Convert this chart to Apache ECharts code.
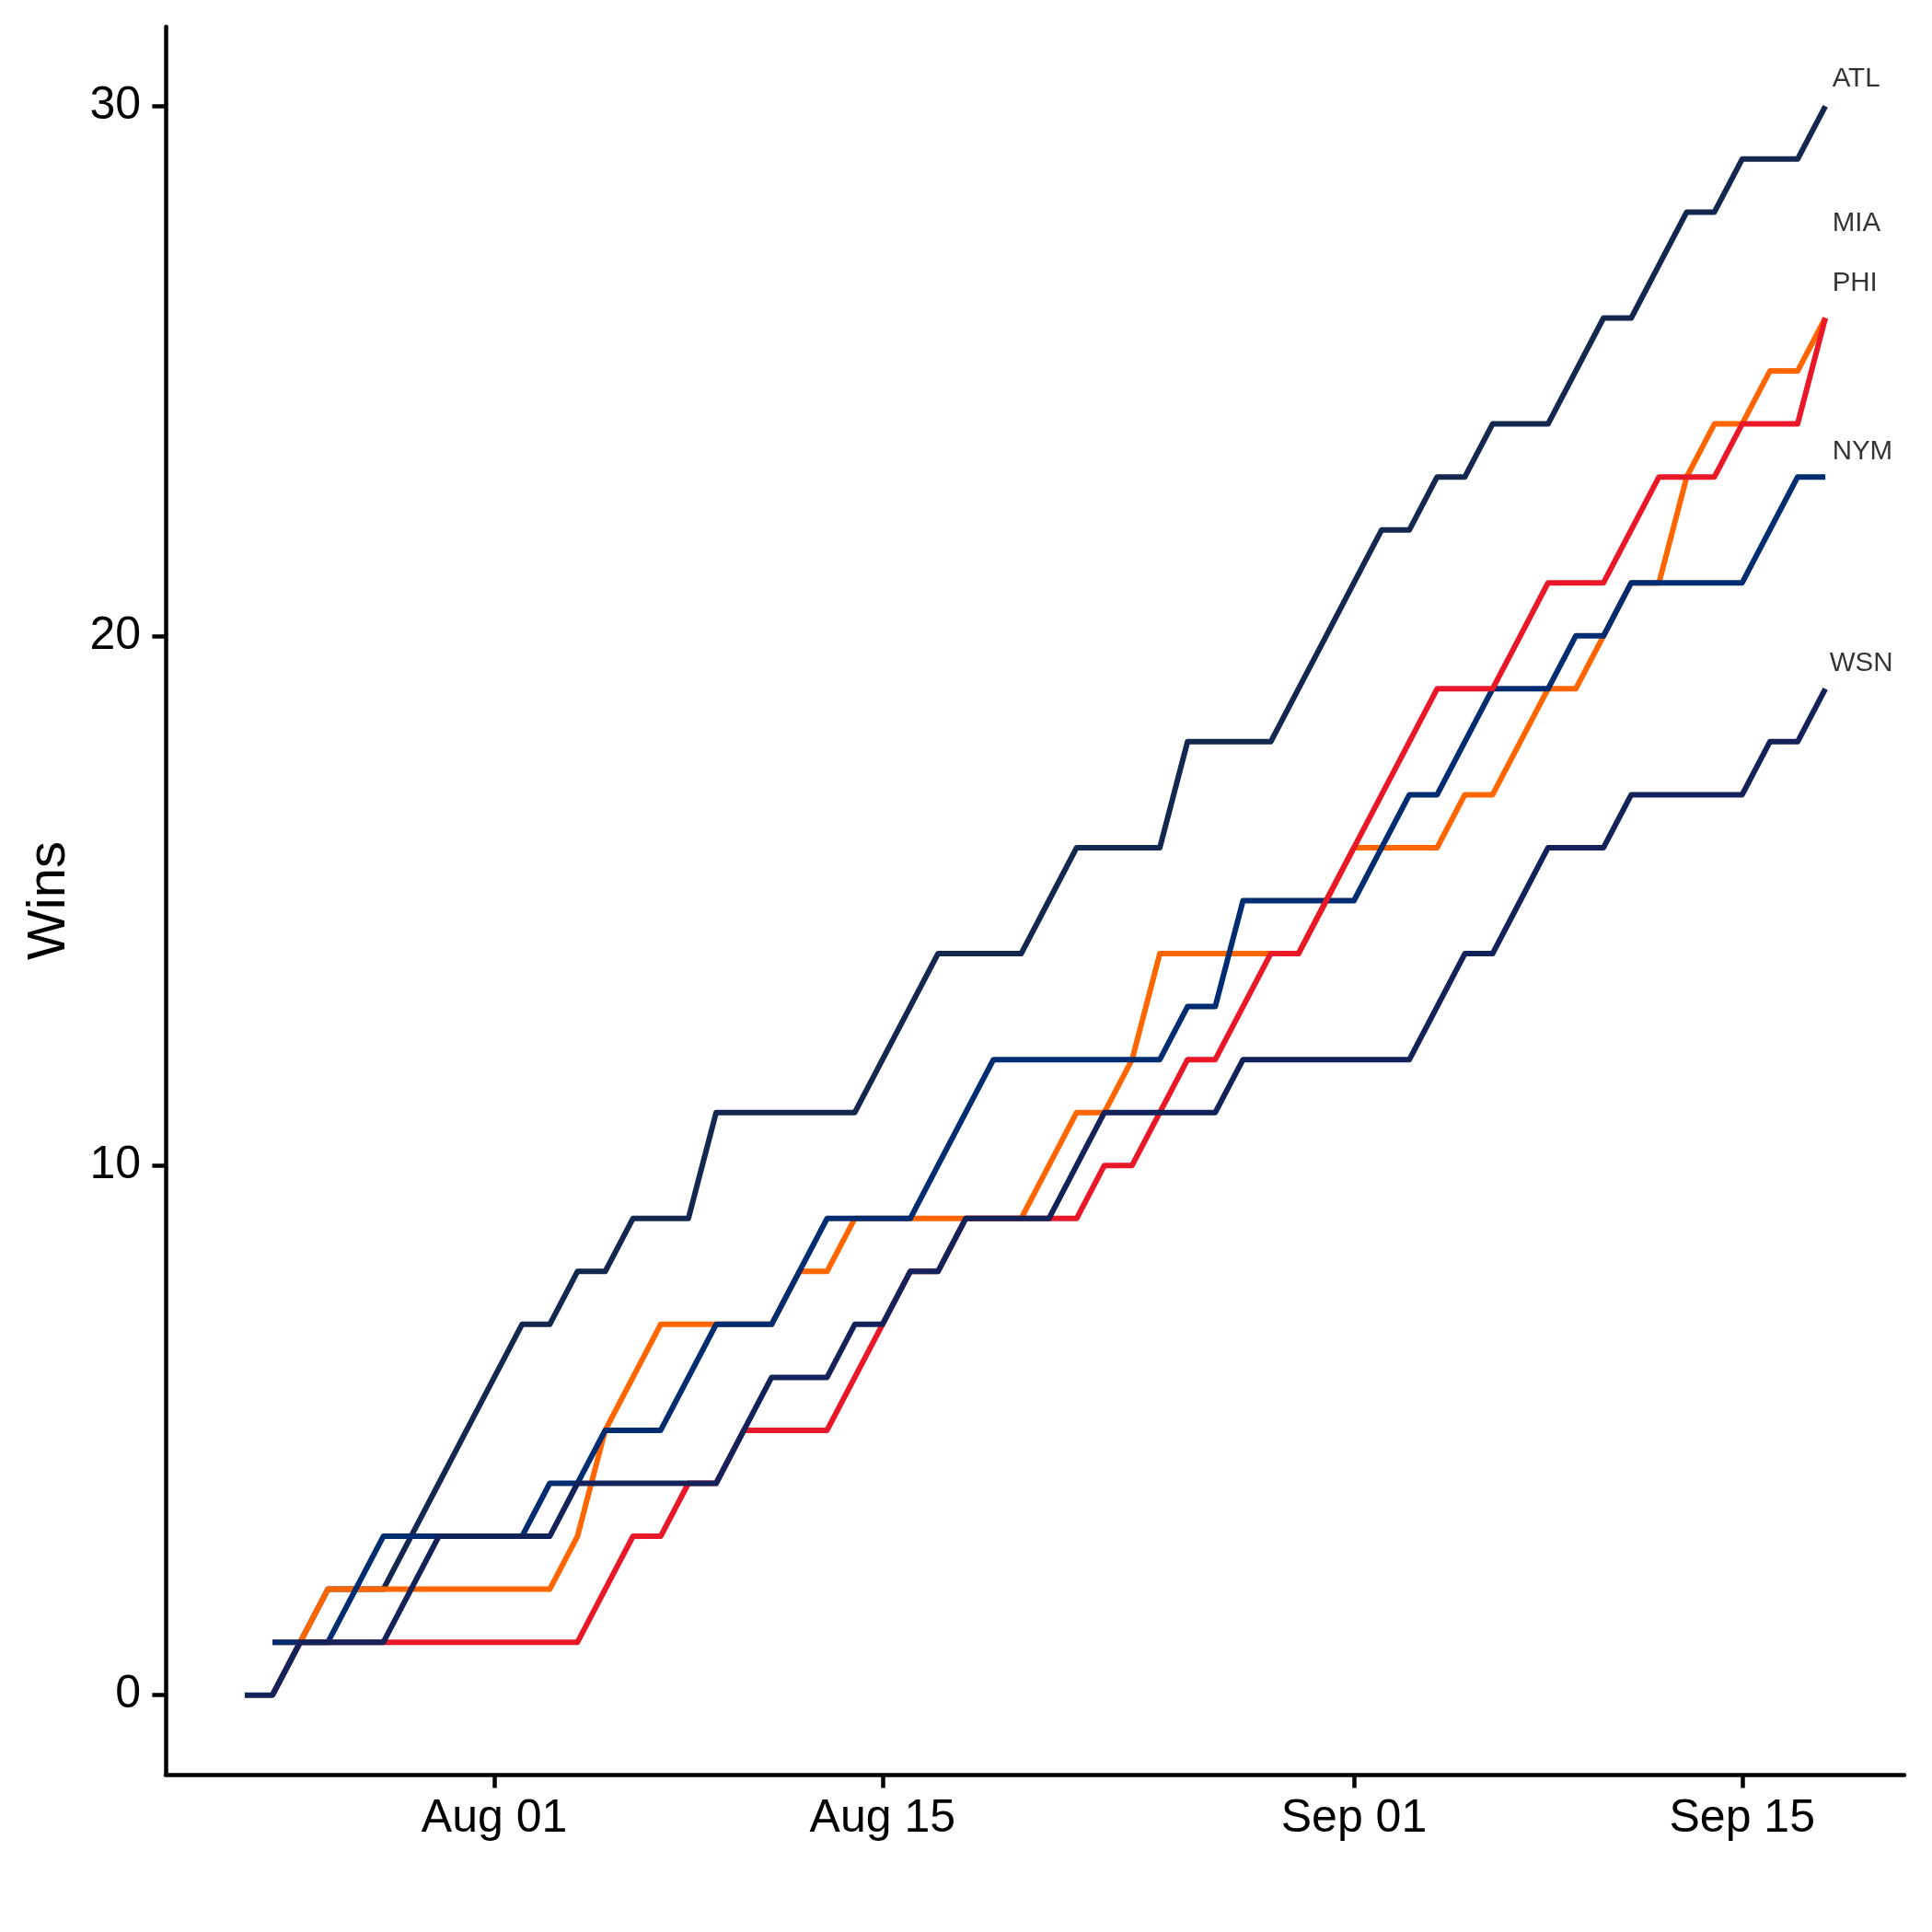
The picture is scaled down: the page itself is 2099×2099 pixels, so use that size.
<!DOCTYPE html>
<html>
<head>
<meta charset="utf-8">
<script src="https://cdn.jsdelivr.net/npm/echarts@6/dist/echarts.min.js"></script>
<style>
html,body{margin:0;padding:0;background:#ffffff;}
#chart{width:2099px;height:2099px;}
</style>
</head>
<body>
<div id="chart"></div>
<script>
// ---------------- data ----------------
const dates = [
  '2020-07-23','2020-07-24','2020-07-25','2020-07-26','2020-07-27','2020-07-28','2020-07-29','2020-07-30','2020-07-31',
  '2020-08-01','2020-08-02','2020-08-03','2020-08-04','2020-08-05','2020-08-06','2020-08-07','2020-08-08','2020-08-09','2020-08-10',
  '2020-08-11','2020-08-12','2020-08-13','2020-08-14','2020-08-15','2020-08-16','2020-08-17','2020-08-18','2020-08-19','2020-08-20',
  '2020-08-21','2020-08-22','2020-08-23','2020-08-24','2020-08-25','2020-08-26','2020-08-27','2020-08-28','2020-08-29','2020-08-30','2020-08-31',
  '2020-09-01','2020-09-02','2020-09-03','2020-09-04','2020-09-05','2020-09-06','2020-09-07','2020-09-08','2020-09-09','2020-09-10',
  '2020-09-11','2020-09-12','2020-09-13','2020-09-14','2020-09-15','2020-09-16','2020-09-17','2020-09-18'
];
const teams = ['ATL', 'MIA', 'NYM', 'PHI', 'WSN'];
const ATL = [null,0,1,2,2,2,3,4,5,6,7,7,8,8,9,9,9,11,11,11,11,11,11,12,13,14,14,14,14,15,16,16,16,16,18,18,18,18,19,20,21,22,22,23,23,24,24,24,25,26,26,27,28,28,29,29,29,30];
const MIA = [null,1,1,2,2,2,2,2,2,2,2,2,3,5,6,7,7,7,7,7,8,8,9,9,9,9,9,9,9,10,11,11,12,14,14,14,14,14,14,15,16,16,16,16,17,17,18,19,19,20,21,21,23,24,24,25,25,26];
const NYM = [null,1,1,1,2,3,3,3,3,3,3,4,4,5,5,5,6,7,7,7,8,9,9,9,9,10,11,12,12,12,12,12,12,12,13,13,15,15,15,15,15,16,17,17,18,19,19,19,20,20,21,21,21,21,21,22,23,23];
const PHI = [null,0,1,1,1,1,1,1,1,1,1,1,1,2,3,3,4,4,5,5,5,5,6,7,8,8,9,9,9,9,9,10,10,11,12,12,13,14,14,15,16,17,18,19,19,19,20,21,21,21,22,23,23,23,24,24,24,26];
const WSN = [0,0,1,1,1,1,2,3,3,3,3,3,4,4,4,4,4,4,5,6,6,6,7,7,8,8,9,9,9,9,10,11,11,11,11,11,12,12,12,12,12,12,12,13,14,14,15,16,16,16,17,17,17,17,17,18,18,19];
const xTickDates  = ['2020-08-01', '2020-08-15', '2020-09-01', '2020-09-15'];
const xTickLabels = ['Aug 01', 'Aug 15', 'Sep 01', 'Sep 15'];
const yTicks      = [0, 10, 20, 30];
const yTickLabels = ['0', '10', '20', '30'];

// ---------------- helpers ----------------
const DAY = 86400000;
function utc(s) { const p = s.split('-').map(Number); return Date.UTC(p[0], p[1] - 1, p[2]); }
const t0 = utc(dates[0]);
const dayOf = s => Math.round((utc(s) - t0) / DAY);
const dayIdx = dates.map(dayOf);
const teamValues = { ATL: ATL, MIA: MIA, NYM: NYM, PHI: PHI, WSN: WSN };

// style (not data)
const FONT = "'Liberation Sans', Arial, sans-serif";
const teamColors = { ATL: '#13274F', MIA: '#FF6600', NYM: '#002D72', PHI: '#E81828', WSN: '#14225A' };
const labelOffsetPx = { ATL: [0, -29], MIA: [0, -103], PHI: [0, -38], NYM: [0, -27], WSN: [-3, -27] };

// axis ranges with 5% expansion (as in the source plot)
const xFirst = dayIdx[0], xLast = dayIdx[dayIdx.length - 1];
const xPad = (xLast - xFirst) * 0.05;
let allVals = [];
teams.forEach(t => teamValues[t].forEach(v => { if (v != null) allVals.push(v); }));
const yLo = Math.min.apply(null, allVals), yHi = Math.max.apply(null, allVals);
const yPad = (yHi - yLo) * 0.05;

const xTickDays = xTickDates.map(dayOf);

const lineSeries = teams.map(t => ({
  name: t,
  type: 'line',
  data: dayIdx.map((d, i) => [d, teamValues[t][i]]).filter(p => p[1] != null),
  showSymbol: false,
  symbol: 'none',
  lineStyle: { color: teamColors[t], width: 6, join: 'round', cap: 'butt' },
  itemStyle: { color: teamColors[t] },
  emphasis: { disabled: true },
  silent: true,
  z: 2
}));

const labelSeries = {
  type: 'scatter',
  silent: true,
  symbolSize: 1,
  itemStyle: { color: 'rgba(0,0,0,0)' },
  z: 5,
  label: {
    show: true, position: 'right', distance: 7,
    formatter: '{b}', fontSize: 29.5, color: '#000000', fontFamily: FONT
  },
  data: teams.map(t => {
    const vals = teamValues[t];
    let li = vals.length - 1;
    while (vals[li] == null) li--;
    return { name: t, value: [dayIdx[li], vals[li]], label: { offset: labelOffsetPx[t] } };
  })
};

const chart = echarts.init(document.getElementById('chart'), null, { renderer: 'canvas' });
chart.setOption({
  animation: false,
  backgroundColor: '#ffffff',
  textStyle: { fontFamily: FONT },
  grid: { left: 180, right: 30, top: 29, bottom: 171, containLabel: false, outerBoundsMode: 'none' },
  xAxis: {
    type: 'value',
    min: xFirst - xPad,
    max: xLast + xPad,
    splitLine: { show: false },
    axisLine: { show: true, onZero: false, lineStyle: { color: '#000000', width: 4.5 } },
    axisTick: { show: true, inside: false, length: 14.6, customValues: xTickDays, lineStyle: { color: '#000000', width: 4.5 } },
    axisLabel: {
      show: true, customValues: xTickDays, margin: 23, fontSize: 50, color: '#000000', fontFamily: FONT,
      formatter: v => { const k = xTickDays.indexOf(Math.round(v)); return k >= 0 ? xTickLabels[k] : ''; }
    }
  },
  yAxis: {
    type: 'value',
    min: yLo - yPad,
    max: yHi + yPad,
    name: 'Wins',
    nameLocation: 'middle',
    nameRotate: 90,
    nameGap: 97,
    nameTextStyle: { fontSize: 58, color: '#000000', fontFamily: FONT },
    splitLine: { show: false },
    axisLine: { show: true, onZero: false, lineStyle: { color: '#000000', width: 4.5 } },
    axisTick: { show: true, inside: false, length: 14.6, customValues: yTicks, lineStyle: { color: '#000000', width: 4.5 } },
    axisLabel: {
      show: true, customValues: yTicks, margin: 27, fontSize: 50, color: '#000000', fontFamily: FONT,
      formatter: v => { const k = yTicks.indexOf(Math.round(v)); return k >= 0 ? yTickLabels[k] : ''; }
    }
  },
  series: lineSeries.concat([labelSeries])
});
</script>
</body>
</html>
